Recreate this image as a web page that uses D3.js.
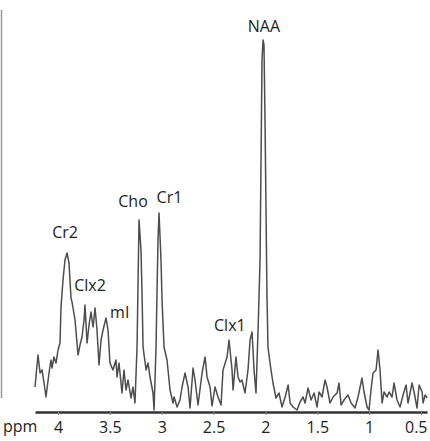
<!DOCTYPE html>
<html>
<head>
<meta charset="utf-8">
<script src="https://cdn.jsdelivr.net/npm/d3@7"></script>
<style>
  body { margin: 0; background: #fff; }
  svg text { font-family: "Open Sans", "Noto Sans", sans-serif; fill: #222; }
</style>
</head>
<body>
<div id="graph"></div>
<script>
// spectrum: chemical shift (ppm) and signal (a.u.)
var ppm = [4.222, 4.193, 4.173, 4.154, 4.135, 4.116, 4.087, 4.068, 4.058, 4.039,
  4.019, 4.000, 3.981, 3.971, 3.952, 3.933, 3.913, 3.894, 3.875, 3.865,
  3.836, 3.807, 3.788, 3.769, 3.749, 3.740, 3.720, 3.701, 3.682, 3.662,
  3.643, 3.624, 3.605, 3.585, 3.566, 3.537, 3.518, 3.499, 3.470, 3.441,
  3.431, 3.412, 3.383, 3.364, 3.344, 3.325, 3.296, 3.277, 3.258, 3.238,
  3.219, 3.200, 3.190, 3.180, 3.151, 3.132, 3.113, 3.084, 3.074, 3.055,
  3.036, 3.026, 3.007, 2.997, 2.978, 2.949, 2.920, 2.891, 2.881, 2.852,
  2.824, 2.804, 2.775, 2.746, 2.727, 2.698, 2.679, 2.650, 2.611, 2.582,
  2.563, 2.534, 2.515, 2.486, 2.457, 2.428, 2.409, 2.370, 2.351, 2.322,
  2.312, 2.284, 2.264, 2.245, 2.226, 2.197, 2.168, 2.148, 2.129, 2.110,
  2.091, 2.071, 2.052, 2.033, 2.023, 2.014, 2.004, 1.985, 1.975, 1.946,
  1.927, 1.898, 1.869, 1.840, 1.810, 1.781, 1.762, 1.734, 1.695, 1.666,
  1.637, 1.618, 1.589, 1.560, 1.531, 1.502, 1.483, 1.454, 1.425, 1.406,
  1.377, 1.348, 1.309, 1.290, 1.271, 1.242, 1.204, 1.174, 1.136, 1.107,
  1.069, 1.049, 1.020, 1.001, 0.982, 0.962, 0.933, 0.914, 0.895, 0.875,
  0.856, 0.827, 0.808, 0.779, 0.760, 0.731, 0.702, 0.673, 0.644, 0.625,
  0.586, 0.567, 0.538, 0.518, 0.489, 0.480, 0.460, 0.442];

var signal = [25, 57, 39, 42, 29, 15, 39, 52, 44, 55,
  49, 62, 69, 105, 132, 152, 159, 149, 114, 110,
  92, 57, 67, 75, 92, 107, 69, 87, 100, 85,
  104, 82, 47, 72, 82, 94, 82, 49, 42, 52,
  35, 49, 19, 42, 22, 32, 14, 25, 9, 65,
  192, 162, 119, 65, 42, 49, 35, 19, 2, 65,
  172, 199, 152, 112, 65, 52, 22, 9, 15, 5,
  12, 25, 39, 25, 4, 44, 32, 7, 39, 55,
  35, 25, 6, 25, 15, 7, 42, 55, 72, 42,
  22, 55, 35, 30, 32, 19, 42, 72, 80, 42,
  19, 82, 152, 352, 372, 367, 292, 115, 64, 42,
  29, 14, 19, 5, 15, 27, 9, 5, 2, 10,
  15, 9, 24, 12, 19, 5, 20, 15, 32, 25,
  9, 15, 19, 29, 7, 12, 17, 9, 4, 15,
  34, 20, 5, 2, 22, 39, 42, 62, 42, 9,
  20, 15, 20, 15, 29, 12, 5, 17, 27, 9,
  29, 20, 4, 27, 20, 9, 17, 14];

var tickValues = [4, 3.5, 3, 2.5, 2, 1.5, 1, 0.5];

// peak names and where they sit
var peakNames = ['NAA', 'Cho', 'Cr1', 'Cr2', 'Clx2', 'mI', 'Clx1'];
var peakPpm = [2.015, 3.277, 2.925, 3.932, 3.692, 3.405, 2.343];
var peakLabelSignal = [380, 205, 209, 174, 121, 94, 81];

var width = 430, height = 441;

var svg = d3.select('#graph')
  .append('svg')
  .attr('width', width)
  .attr('height', height);

var x = d3.scaleLinear().domain([4.222, 0.442]).range([35, 427]);
var y = d3.scaleLinear().domain([0, 380]).range([412, 32]);

// grey frame edge on the left
svg.append('line')
  .attr('x1', 1.5).attr('x2', 1.5)
  .attr('y1', 10).attr('y2', 398)
  .attr('stroke', '#9a9a9a')
  .attr('stroke-width', 1.5);

var points = ppm.map(function(p, i) { return [p, signal[i]]; });

var line = d3.line()
  .x(function(d) { return x(d[0]); })
  .y(function(d) { return y(d[1]); });

svg.append('path')
  .datum(points)
  .attr('d', line)
  .attr('fill', 'none')
  .attr('stroke', '#4d4d4d')
  .attr('stroke-width', 1.5)
  .attr('stroke-linejoin', 'round');

// x axis
var axis = svg.append('g')
  .attr('transform', 'translate(0,412)')
  .call(d3.axisBottom(x)
    .tickValues(tickValues)
    .tickSize(3)
    .tickSizeOuter(0)
    .tickPadding(7)
    .tickFormat(function(d) { return d; }));

axis.select('.domain').attr('stroke', '#333').attr('stroke-width', 2.5);
axis.selectAll('.tick line').attr('stroke', '#888');
axis.selectAll('.tick text')
  .style('font-family', '"Open Sans", sans-serif')
  .style('font-size', '16px')
  .attr('fill', '#222');
// keep the last label inside the window
axis.selectAll('.tick text')
  .filter(function(d) { return d === 0.5; })
  .attr('text-anchor', 'end')
  .attr('dx', '6');

svg.append('text')
  .attr('x', 3)
  .attr('y', 432)
  .style('font-size', '16px')
  .text('ppm');

// peak labels
svg.append('g')
  .selectAll('text')
  .data(peakNames)
  .enter()
  .append('text')
  .attr('x', function(d, i) { return x(peakPpm[i]); })
  .attr('y', function(d, i) { return y(peakLabelSignal[i]); })
  .attr('text-anchor', 'middle')
  .style('font-size', '16px')
  .text(function(d) { return d; });
</script>
</body>
</html>
